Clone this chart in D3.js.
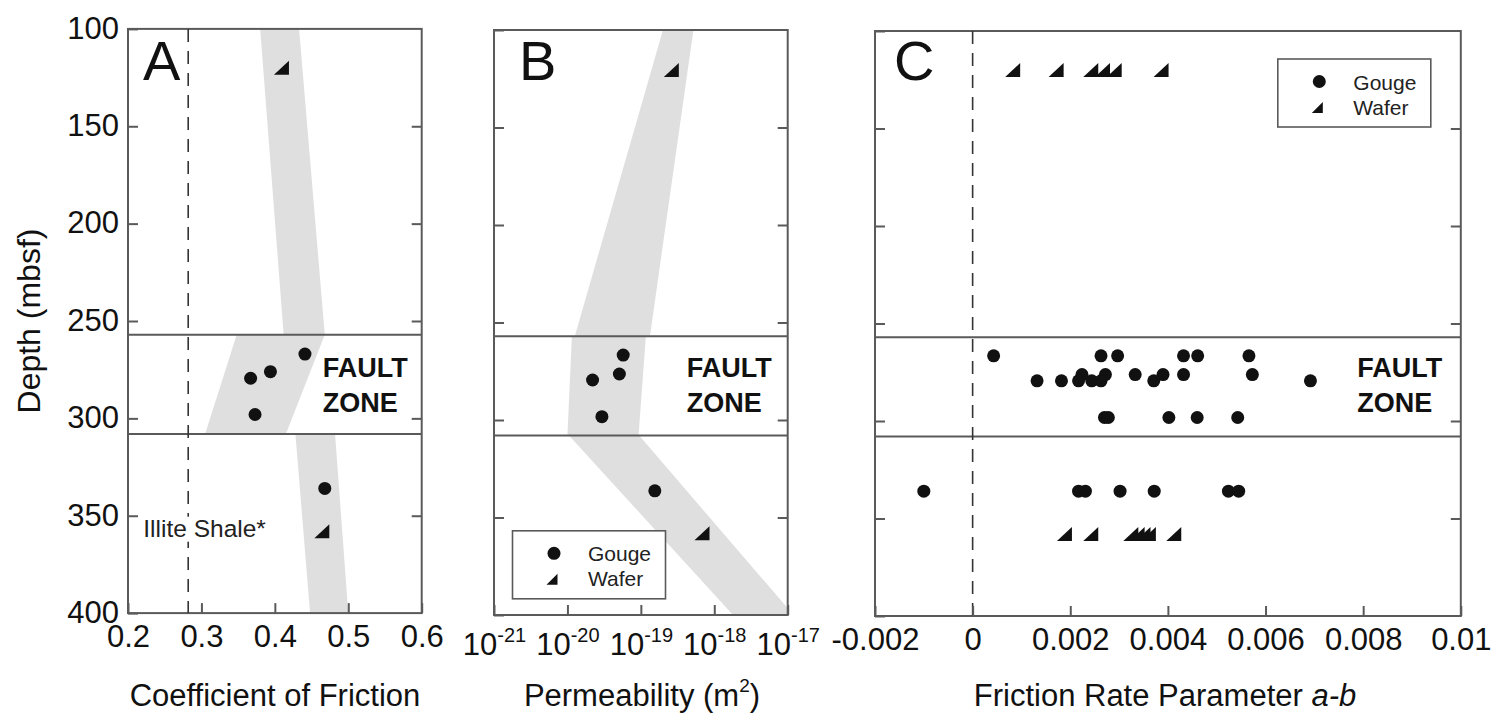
<!DOCTYPE html>
<html>
<head>
<meta charset="utf-8">
<script src="https://cdn.jsdelivr.net/npm/d3@7"></script>
<style>
body{margin:0;background:#fff;}
svg{display:block;font-family:"Liberation Sans",Arial,sans-serif;}
</style>
</head>
<body>
<svg id="chart" width="1492" height="718"></svg>
<script>
// depth axis shared by the three panels
const depthTicks = [100, 150, 200, 250, 300, 350, 400];
const faultZone = [257, 308];

// A - coefficient of friction
const frictionTicks = [0.2, 0.3, 0.4, 0.5, 0.6];
const illiteShale = 0.282;
const frictionGougeDepth = [267, 276, 279.4, 298, 336];
const frictionGougeValue = [0.441, 0.394, 0.367, 0.373, 0.468];
const frictionWaferDepth = [120, 358];
const frictionWaferValue = [0.409, 0.464];
const frictionBandDepth = [[100, 257], [257, 308], [308, 400]];
const frictionBandLow = [[0.380, 0.412], [0.348, 0.305], [0.428, 0.448]];
const frictionBandHigh = [[0.433, 0.468], [0.468, 0.415], [0.482, 0.500]];

// B - permeability (m2)
const permTicks = [1e-21, 1e-20, 1e-19, 1e-18, 1e-17];
const permGougeDepth = [266.7, 276.4, 279.5, 298.3, 336.3];
const permGougeValue = [5.75e-20, 5.1e-20, 2.2e-20, 2.95e-20, 1.55e-19];
const permWaferDepth = [120.5, 358.1];
const permWaferValue = [2.6e-19, 6.8e-19];
const permBandDepth = [[100, 257], [257, 308], [308, 400]];
const permBandLow = [[2.0e-19, 1.26e-20], [1.15e-20, 1.0e-20], [1.05e-20, 1.8e-18]];
const permBandHigh = [[5.2e-19, 1.33e-19], [1.17e-19, 9.3e-20], [9.5e-20, 1.2e-17]];

// C - friction rate parameter a-b
const abTicks = [-0.002, 0, 0.002, 0.004, 0.006, 0.008, 0.01];
const abGougeDepth = [
    266.6, 266.6, 266.6, 266.6, 266.6, 266.6,
    276.2, 276.2, 276.2, 276.2, 276.2, 276.2,
    279.4, 279.4, 279.4, 279.4, 279.4, 279.4, 279.4,
    298.2, 298.2, 298.2, 298.2, 298.2,
    336, 336, 336, 336, 336, 336, 336];
const abGougeValue = [
    0.00043, 0.00263, 0.00297, 0.00432, 0.00461, 0.00566,
    0.00224, 0.00272, 0.00333, 0.00390, 0.00432, 0.00573,
    0.00132, 0.00182, 0.00217, 0.00244, 0.00263, 0.00371, 0.00692,
    0.00270, 0.00278, 0.00402, 0.00460, 0.00543,
    -0.00100, 0.00217, 0.00231, 0.00302, 0.00372, 0.00524, 0.00545];
const abWaferDepth = [120, 120, 120, 120, 120, 120, 358, 358, 358, 358, 358, 358, 358];
const abWaferValue = [0.00082, 0.00171, 0.00242, 0.00266, 0.00290, 0.00386,
    0.00188, 0.00242, 0.00324, 0.00337, 0.00349, 0.00360, 0.00412];

const svg = d3.select("#chart");
const ink = "#111", frame = "#5a5a5a", shade = "#dfdfdf";

function tri(cx, cy, w, h){
    return `M${cx - w/2},${cy + h/2}L${cx + w/2},${cy + h/2}L${cx + w/2},${cy - h/2}Z`;
}

/**
 * Draws frame, band, fault zone lines and depth ticks of one panel
 */
function panel(id, x, y, band, showDepthLabels){
    const g = svg.append("g");
    const [left, right] = x.range();
    const [top, bottom] = y.range();

    g.append("clipPath").attr("id", "clip-" + id)
        .append("rect").attr("x", left).attr("y", top)
        .attr("width", right - left).attr("height", bottom - top);

    if (band){
        const area = d3.area()
            .y(d => y(d.depth)).x0(d => x(d.low)).x1(d => x(d.high));
        const bg = g.append("g").attr("clip-path", `url(#clip-${id})`);
        band.depth.forEach((d, i) => {
            const seg = [0, 1].map(k => ({depth: d[k], low: band.low[i][k], high: band.high[i][k]}));
            bg.append("path").attr("d", area(seg)).attr("fill", shade);
        });
    }

    // fault zone boundaries
    g.selectAll(".fault").data(faultZone).enter().append("line")
        .attr("x1", left).attr("x2", right)
        .attr("y1", d => y(d)).attr("y2", d => y(d))
        .attr("stroke", frame).attr("stroke-width", 2);

    const leftAxis = d3.axisLeft(y).tickValues(depthTicks).tickSize(-10).tickPadding(9)
        .tickFormat(showDepthLabels ? d => d : "");
    const rightAxis = d3.axisRight(y).tickValues(depthTicks.slice(1, -1)).tickSize(-10).tickFormat("");
    g.append("g").attr("transform", `translate(${left},0)`).call(leftAxis).call(styleAxis);
    g.append("g").attr("transform", `translate(${right},0)`).call(rightAxis).call(styleAxis);
    g.selectAll("text").attr("dy", "0.3em");

    g.append("rect").attr("x", left).attr("y", top)
        .attr("width", right - left).attr("height", bottom - top)
        .attr("fill", "none").attr("stroke", frame).attr("stroke-width", 2);
    return g;
}

function styleAxis(sel){
    sel.select(".domain").remove();
    sel.selectAll(".tick line").attr("stroke", frame).attr("stroke-width", 2);
    sel.selectAll(".tick text").attr("fill", ink).attr("font-size", 31)
        .attr("font-family", "'Liberation Sans', Arial, sans-serif");
}

function bottomAxis(g, x, y, ticks, fmt, offset){
    const ax = d3.axisBottom(x).tickValues(ticks).tickSize(-10).tickFormat(fmt);
    const a = g.append("g").attr("transform", `translate(0,${y.range()[1]})`).call(ax).call(styleAxis);
    a.selectAll(".tick text").attr("y", offset).attr("dy", null);
    return a;
}

function dashed(g, x, y, v){
    g.append("line").attr("x1", x(v)).attr("x2", x(v))
        .attr("y1", y.range()[0]).attr("y2", y.range()[1])
        .attr("stroke", "#333").attr("stroke-width", 1.6).attr("stroke-dasharray", "13,9");
}

function points(g, x, y, gd, gv, wd, wv){
    g.selectAll(null).data(d3.range(gd.length)).enter().append("circle")
        .attr("cx", i => x(gv[i])).attr("cy", i => y(gd[i])).attr("r", 6.5).attr("fill", ink);
    g.selectAll(null).data(d3.range(wd.length)).enter().append("path")
        .attr("d", i => tri(x(wv[i]), y(wd[i]), 15, 14)).attr("fill", ink);
}

function legend(cx, cy){
    const g = svg.append("g");
    g.append("rect").attr("x", cx - 41.5).attr("y", cy - 22.5).attr("width", 153).attr("height", 68)
        .attr("fill", "#fff").attr("stroke", frame).attr("stroke-width", 1.6);
    g.append("circle").attr("cx", cx).attr("cy", cy).attr("r", 6.5).attr("fill", ink);
    g.append("path").attr("d", tri(cx - 2, cy + 26, 11, 11)).attr("fill", ink);
    g.selectAll("text").data(["Gouge", "Wafer"]).enter().append("text")
        .attr("x", cx + 34).attr("y", (d, i) => cy + 8 + i * 25)
        .attr("font-size", 21).attr("fill", "#222").text(d => d);
}

function letter(g, t, x){
    g.append("text").attr("x", x).attr("y", 80).attr("font-size", 56)
        .attr("font-family", "'Liberation Sans Narrow', 'Liberation Sans', Arial, sans-serif")
        .attr("fill", ink).text(t);
}

function faultLabel(g, x){
    g.selectAll(null).data(["FAULT", "ZONE"]).enter().append("text")
        .attr("x", x).attr("y", (d, i) => 376.5 + i * 35)
        .attr("font-size", 27).attr("font-weight", "bold").attr("fill", ink).text(d => d);
}

function title(x, parts){
    const t = svg.append("text").attr("x", x).attr("y", 706)
        .attr("text-anchor", "middle").attr("font-size", 31).attr("fill", ink);
    parts.forEach(p => {
        const s = t.append("tspan").text(p.text);
        if (p.italic) s.attr("font-style", "italic");
        if (p.sup) s.attr("font-size", 19).attr("dy", -14);
        if (p.down) s.attr("dy", 14);
    });
}

// ---- Panel A
const xA = d3.scaleLinear().domain([0.2, 0.6]).range([128, 421.7]);
const yA = d3.scaleLinear().domain([100, 400]).range([28.9, 613.1]);
const gA = panel("a", xA, yA, {depth: frictionBandDepth, low: frictionBandLow, high: frictionBandHigh}, true);
dashed(gA, xA, yA, illiteShale);
bottomAxis(gA, xA, yA, frictionTicks, d => d, 34);
points(gA, xA, yA, frictionGougeDepth, frictionGougeValue, frictionWaferDepth, frictionWaferValue);
letter(gA, "A", 143);
faultLabel(gA, 322.7);
const shale = gA.append("text").attr("x", 143.3).attr("y", 536.7).attr("font-size", 24.5)
    .attr("fill", "#222").text("Illite Shale*");
const bb = shale.node().getBBox();
gA.insert("rect", () => shale.node()).attr("x", bb.x - 1).attr("y", bb.y + 2)
    .attr("width", bb.width + 2).attr("height", bb.height - 2).attr("fill", "#fff");

// ---- Panel B
const xB = d3.scaleLog().domain([1e-21, 1e-17]).range([494, 787.7]);
const yB = d3.scaleLinear().domain([100, 400]).range([30, 615]);
const gB = panel("b", xB, yB, {depth: permBandDepth, low: permBandLow, high: permBandHigh}, false);
const axB = bottomAxis(gB, xB, yB, permTicks, "", 40);
axB.selectAll(".tick text").each(function(d){
    const t = d3.select(this);
    t.append("tspan").text("10");
    t.append("tspan").attr("dy", -13).attr("font-size", 20).text("-" + Math.round(-Math.log10(d)));
});
points(gB, xB, yB, permGougeDepth, permGougeValue, permWaferDepth, permWaferValue);
letter(gB, "B", 519);
faultLabel(gB, 686.7);
legend(554, 553.3);

// ---- Panel C
const xC = d3.scaleLinear().domain([-0.002, 0.01]).range([875, 1460.8]);
const yC = d3.scaleLinear().domain([100, 400]).range([31, 616]);
const gC = panel("c", xC, yC, null, false);
dashed(gC, xC, yC, 0);
bottomAxis(gC, xC, yC, abTicks, d => d === 0 ? "0" : String(+d.toFixed(3)), 34);
points(gC, xC, yC, abGougeDepth, abGougeValue, abWaferDepth, abWaferValue);
letter(gC, "C", 894);
faultLabel(gC, 1357.3);
legend(1319.3, 81.5);

// y title
svg.append("text").attr("transform", "translate(40,321) rotate(-90)")
    .attr("text-anchor", "middle").attr("font-size", 32).attr("fill", ink).text("Depth (mbsf)");

title(275, [{text: "Coefficient of Friction"}]);
title(642, [{text: "Permeability (m"}, {text: "2", sup: true}, {text: ")", down: true}]);
title(1165, [{text: "Friction Rate Parameter "}, {text: "a-b", italic: true}]);
</script>
</body>
</html>
